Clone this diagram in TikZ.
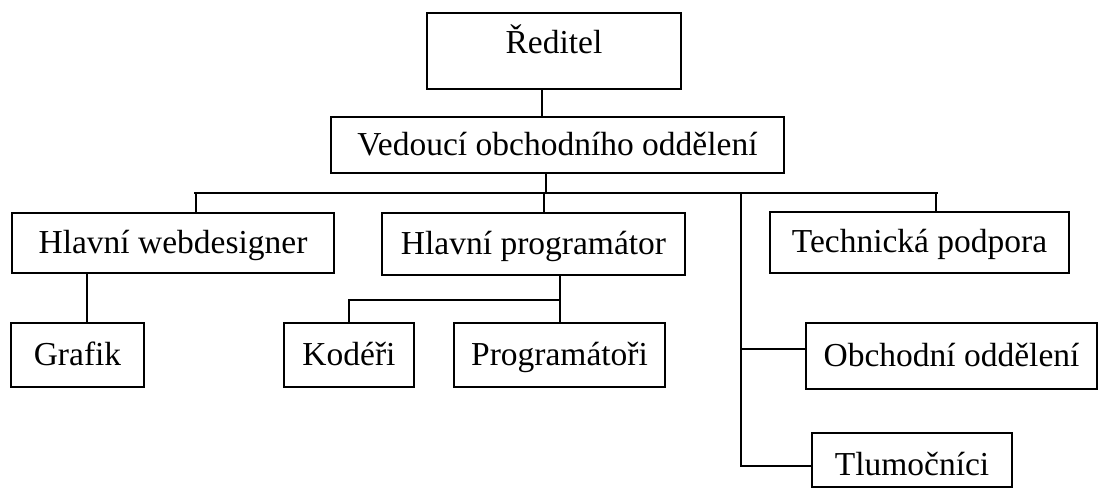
\documentclass[tikz,border=0pt]{standalone}
\usepackage{fontspec}
\setmainfont{Liberation Serif}
\usetikzlibrary{positioning,calc}

\begin{document}
\begin{tikzpicture}[x=1pt,y=-1pt,line width=2pt,
  box/.style={draw,inner sep=0pt,text height=26pt,text depth=6pt,font=\fontsize{33.5}{40}\selectfont}]
\useasboundingbox (0,0) rectangle (1099,488);
% boxes
\node[box,minimum width=254pt,minimum height=76pt,text depth=22pt] (dir) at (554,51) {Ředitel};
\node[box,minimum width=453pt,minimum height=56pt] (ved) at (557.5,145) {Vedoucí obchodního oddělení};
\node[box,minimum width=322pt,minimum height=60pt] (web) at (173,243) {Hlavní webdesigner};
\node[box,minimum width=303pt,minimum height=62pt] (prog) at (533.5,244) {Hlavní programátor};
\node[box,minimum width=299pt,minimum height=61pt] (tech) at (919.5,242.5) {Technická podpora};
\node[box,minimum width=133pt,minimum height=64pt] (graf) at (77.5,355) {Grafik};
\node[box,minimum width=130pt,minimum height=64pt] (kod) at (349,355) {Kodéři};
\node[box,minimum width=211pt,minimum height=64pt] (progs) at (559.5,355) {Programátoři};
\node[box,minimum width=291pt,minimum height=66pt] (obch) at (951.5,356) {Obchodní oddělení};
\node[box,minimum width=200pt,minimum height=54pt,text height=36pt] (tlum) at (912,460) {Tlumočníci};
% joints
\coordinate (busL) at (194,193);
\coordinate (busR) at (938,193);
\coordinate (trunk) at (741,193);
\coordinate (d1) at ([xshift=-12pt]dir.south);
\coordinate (v1) at ([xshift=-11.5pt]ved.south);
\coordinate (w1) at ([xshift=23pt]web.north);
\coordinate (p1) at ([xshift=10.5pt]prog.north);
\coordinate (t1) at ([xshift=16.5pt]tech.north);
\coordinate (g1) at ([xshift=9.5pt]graf.north);
\coordinate (o1) at ([yshift=7pt]obch.west);
\coordinate (l1) at ([yshift=-6pt]tlum.west);
% lines
\draw (d1) -- (d1 |- ved.north);
\draw (v1) -- (v1 |- busL);
\draw (busL) -- (busR);
\draw (w1) -- (w1 |- busL);
\draw (p1) -- (p1 |- busL);
\draw (t1) -- (t1 |- busR);
\draw (trunk) |- (l1);
\draw (trunk |- o1) -- (o1);
\draw (g1) -- (g1 |- web.south);
\draw (prog.south -| progs.north) -- (progs.north);
\draw (kod.north) -- ++(0,-22) -| (progs.north);
\end{tikzpicture}
\end{document}
